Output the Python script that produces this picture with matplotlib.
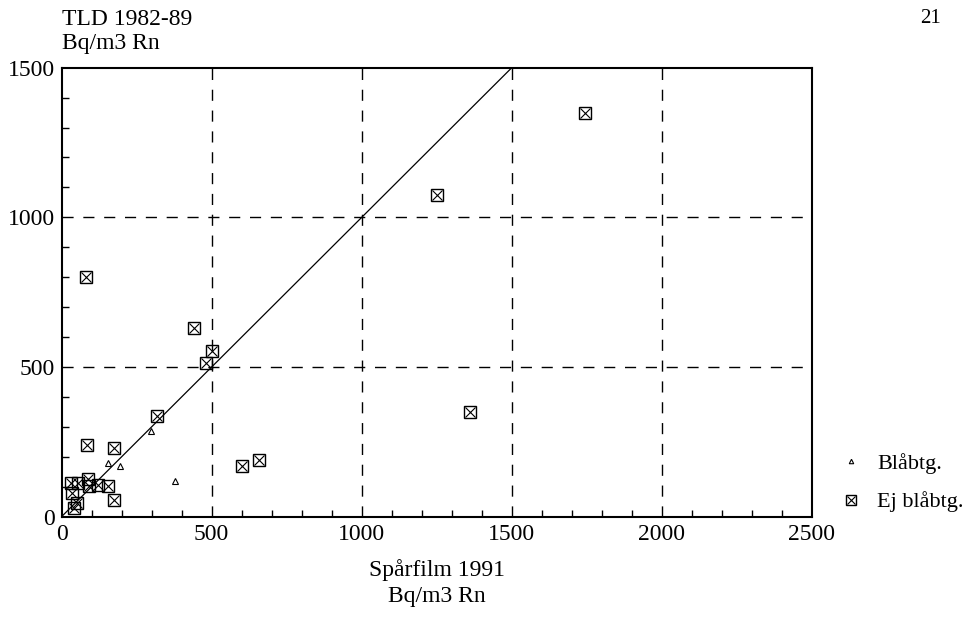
import matplotlib.pyplot as plt
from matplotlib.ticker import MultipleLocator
from matplotlib.legend_handler import HandlerTuple

plt.rcParams['font.family'] = ['Liberation Serif', 'DejaVu Serif']

# Ej blåbtg. (boxed x)
ej_x = [1745, 1250, 1360, 80, 440, 500, 480, 318, 86, 176, 600, 658,
        31, 56, 89, 91, 122, 156, 34, 51, 42, 175]
ej_y = [1350, 1075, 350, 800, 630, 555, 515, 335, 240, 228, 170, 188,
        113, 113, 126, 102, 106, 102, 80, 47, 28, 56]

# Blåbtg. (small triangles)
bl_x = [154, 195, 297, 378]
bl_y = [178, 170, 287, 119]

fig = plt.figure(figsize=(9.75, 6.18), dpi=100)
ax = fig.add_axes([0.0631, 0.1639, 0.7697, 0.7266])

ax.plot([0, 1500], [0, 1500], color='black', lw=0.9)

tri, = ax.plot(bl_x, bl_y, ls='none', marker='^', ms=4, mfc='none', mec='black', mew=0.8)
box, = ax.plot(ej_x, ej_y, ls='none', marker='s', ms=9, mfc='none', mec='black', mew=1.0)
crs, = ax.plot(ej_x, ej_y, ls='none', marker='x', ms=7, color='black', mew=0.8)

for gx in [500, 1000, 1500, 2000]:
    ax.axvline(gx, color='black', lw=1, ls=(0, (8, 7)))
for gy in [500, 1000]:
    ax.axhline(gy, color='black', lw=1, ls=(0, (8, 7)))

ax.set_xlim(0, 2500)
ax.set_ylim(0, 1500)
ax.xaxis.set_major_locator(MultipleLocator(500))
ax.yaxis.set_major_locator(MultipleLocator(500))
ax.xaxis.set_minor_locator(MultipleLocator(100))
ax.yaxis.set_minor_locator(MultipleLocator(100))
ax.tick_params(which='both', direction='in', labelsize=17)
ax.tick_params(which='major', length=0, pad=5)
ax.tick_params(which='minor', length=5, width=1)
for s in ax.spines.values():
    s.set_linewidth(1.5)

fig.text(0.0636, 0.968, 'TLD 1982-89', fontsize=17, va='center')
fig.text(0.0636, 0.93, 'Bq/m3 Rn', fontsize=17, va='center')
fig.text(0.944, 0.97, '21', fontsize=15, va='center')
fig.text(0.448, 0.077, 'Spårfilm 1991', fontsize=17, ha='center', va='center')
fig.text(0.448, 0.034, 'Bq/m3 Rn', fontsize=17, ha='center', va='center')

fig.legend([tri, (box, crs)], ['Blåbtg.', 'Ej blåbtg.'],
           handler_map={tuple: HandlerTuple(ndivide=1)},
           loc='center left', bbox_to_anchor=(0.843, 0.219), frameon=False,
           fontsize=16, handlelength=0.8, handletextpad=0.8, labelspacing=0.8,
           markerscale=0.8)

fig.savefig('out.png', dpi=100)
